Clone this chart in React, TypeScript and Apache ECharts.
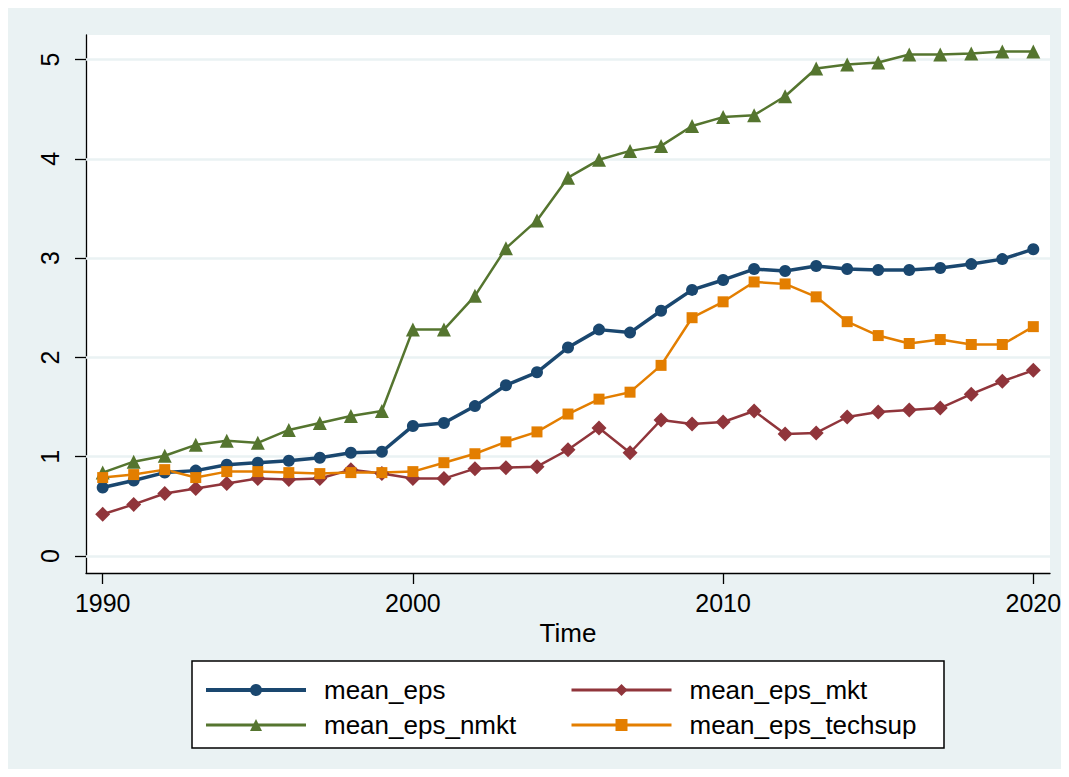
import React, { useEffect, useRef } from "react";
import * as echarts from "echarts";

const years = [1990, 1991, 1992, 1993, 1994, 1995, 1996, 1997, 1998, 1999, 2000, 2001, 2002, 2003, 2004, 2005, 2006, 2007, 2008, 2009, 2010, 2011, 2012, 2013, 2014, 2015, 2016, 2017, 2018, 2019, 2020];

const meanEps = [0.69, 0.76, 0.84, 0.86, 0.92, 0.94, 0.96, 0.99, 1.04, 1.05, 1.31, 1.34, 1.51, 1.72, 1.85, 2.1, 2.28, 2.25, 2.47, 2.68, 2.78, 2.89, 2.87, 2.92, 2.89, 2.88, 2.88, 2.9, 2.94, 2.99, 3.09];
const meanEpsMkt = [0.42, 0.52, 0.63, 0.68, 0.73, 0.78, 0.77, 0.78, 0.87, 0.83, 0.78, 0.78, 0.88, 0.89, 0.9, 1.07, 1.29, 1.04, 1.37, 1.33, 1.35, 1.46, 1.23, 1.24, 1.4, 1.45, 1.47, 1.49, 1.63, 1.76, 1.87];
const meanEpsNmkt = [0.84, 0.95, 1.01, 1.12, 1.16, 1.14, 1.27, 1.34, 1.41, 1.46, 2.28, 2.28, 2.62, 3.1, 3.38, 3.81, 3.99, 4.08, 4.13, 4.33, 4.42, 4.44, 4.63, 4.91, 4.95, 4.97, 5.05, 5.05, 5.06, 5.08, 5.08];
const meanEpsTechsup = [0.79, 0.82, 0.87, 0.79, 0.85, 0.85, 0.84, 0.83, 0.84, 0.84, 0.85, 0.94, 1.03, 1.15, 1.25, 1.43, 1.58, 1.65, 1.92, 2.4, 2.56, 2.76, 2.74, 2.61, 2.36, 2.22, 2.14, 2.18, 2.13, 2.13, 2.31];

const xTicks = [1990, 2000, 2010, 2020];
const yTicks = [0, 1, 2, 3, 4, 5];

const FONT = "'Liberation Sans', Arial, sans-serif";

function mk(name: string, values: number[], color: string, symbol: string, size: number, width: number) {
  return {
    name,
    type: "line",
    data: years.map((y, i) => [y, values[i]]),
    symbol,
    symbolSize: size,
    showAllSymbol: true,
    lineStyle: { color, width },
    itemStyle: { color, borderWidth: 0 },
    z: 3,
  };
}

export default function App() {
  const ref = useRef<HTMLDivElement>(null);
  useEffect(() => {
    if (!ref.current) return;
    const chart = echarts.init(ref.current, undefined, { renderer: "svg" });
    const legendText = { color: "#000", fontSize: 26, fontFamily: FONT, lineHeight: 26, padding: [0, 0, 0, 13] };
    chart.setOption({
      animation: false,
      backgroundColor: "#eaf2f3",
      graphic: [
        {
          type: "rect",
          shape: { x: 184, y: 653, width: 752, height: 87 },
          style: { fill: "#fff", stroke: "#000", lineWidth: 1.5 },
          z: 0,
        },
      ],
      grid: {
        left: 78,
        top: 27,
        right: 19,
        bottom: 204,
        show: true,
        backgroundColor: "#fff",
        borderWidth: 0,
      },
      legend: [
        {
          orient: "vertical",
          left: 196,
          top: 669,
          padding: 0,
          itemGap: 9,
          itemWidth: 100,
          itemHeight: 15,
          data: [
            { name: "mean_eps", lineStyle: { width: 4 } },
            { name: "mean_eps_nmkt", lineStyle: { width: 3 } },
          ],
          textStyle: legendText,
        },
        {
          orient: "vertical",
          left: 562,
          top: 669,
          padding: 0,
          itemGap: 9,
          itemWidth: 100,
          itemHeight: 15,
          data: [
            { name: "mean_eps_mkt", lineStyle: { width: 3 } },
            { name: "mean_eps_techsup", lineStyle: { width: 3 } },
          ],
          textStyle: legendText,
        },
      ],
      xAxis: {
        type: "value",
        min: 1989.462,
        max: 2020.538,
        name: "Time",
        nameLocation: "middle",
        nameGap: 46,
        nameTextStyle: { color: "#000", fontSize: 26, fontFamily: FONT },
        axisLine: { show: true, onZero: false, lineStyle: { color: "#000", width: 1.3 } },
        axisTick: { show: true, length: 11, customValues: xTicks, lineStyle: { color: "#000", width: 1.3 } },
        axisLabel: { customValues: xTicks, color: "#000", fontSize: 25, fontFamily: FONT, margin: 17, formatter: (v: number) => String(v) },
        splitLine: { show: false },
      },
      yAxis: {
        type: "value",
        min: -0.171,
        max: 5.247,
        axisLine: { show: true, onZero: false, lineStyle: { color: "#000", width: 1.3 } },
        axisTick: { show: true, length: 11, customValues: yTicks, lineStyle: { color: "#000", width: 1.3 } },
        axisLabel: { customValues: yTicks, color: "#000", fontSize: 25, fontFamily: FONT, margin: 24, rotate: 90, formatter: (v: number) => String(v) },
        splitLine: { show: false },
      },
      series: [
        {
          name: "_grid",
          type: "line",
          data: [],
          z: 1,
          silent: true,
          markLine: {
            z: 1,
            silent: true,
            symbol: "none",
            label: { show: false },
            lineStyle: { color: "#eaf2f3", width: 2.5, type: "solid" },
            data: yTicks.map((v) => ({ yAxis: v })),
          },
        },
        mk("mean_eps", meanEps, "#1a476f", "circle", 12, 3.5),
        mk("mean_eps_mkt", meanEpsMkt, "#90353b", "diamond", 15, 2.5),
        mk("mean_eps_nmkt", meanEpsNmkt, "#55752f", "triangle", 14, 2.5),
        mk("mean_eps_techsup", meanEpsTechsup, "#e37e00", "rect", 11, 2.5),
      ],
    });
    return () => chart.dispose();
  }, []);
  return <div ref={ref} style={{ width: 1061, height: 769, marginBottom: -8 }} />;
}
